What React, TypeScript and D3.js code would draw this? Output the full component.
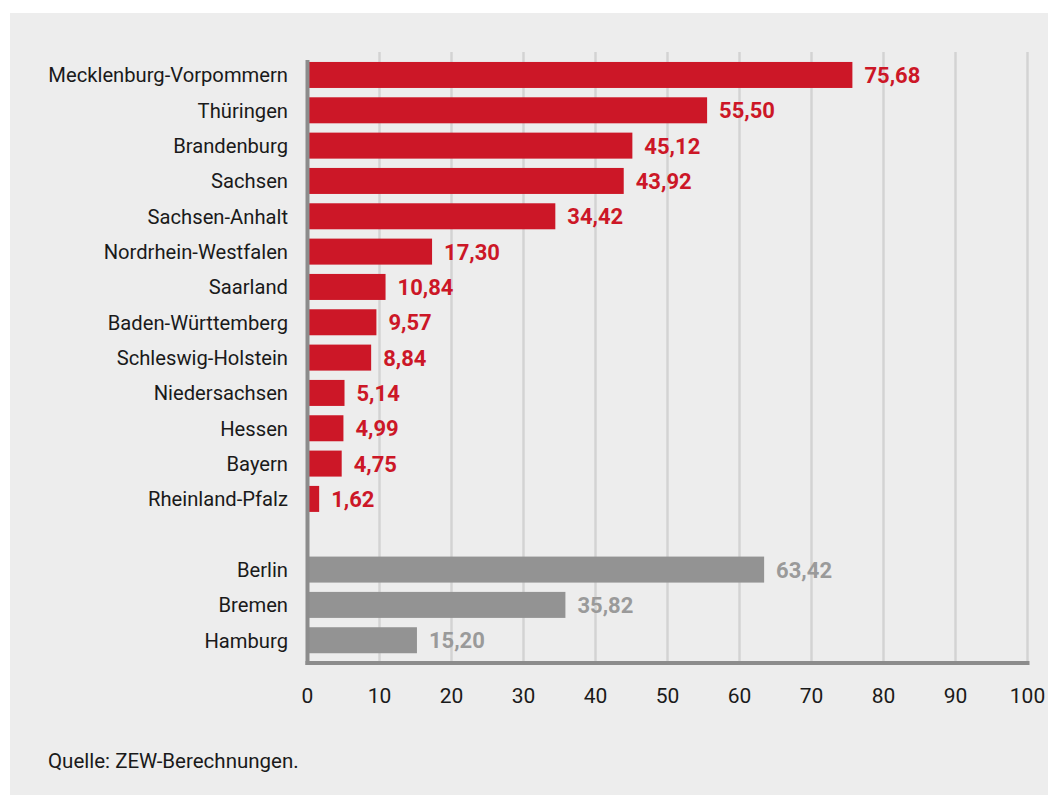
import React from "react";
import * as d3 from "d3";

/* ---- data ---- */
const flaechenlaender = [
  "Mecklenburg-Vorpommern",
  "Thüringen",
  "Brandenburg",
  "Sachsen",
  "Sachsen-Anhalt",
  "Nordrhein-Westfalen",
  "Saarland",
  "Baden-Württemberg",
  "Schleswig-Holstein",
  "Niedersachsen",
  "Hessen",
  "Bayern",
  "Rheinland-Pfalz",
];
const flaechenWerte = [75.68, 55.5, 45.12, 43.92, 34.42, 17.3, 10.84, 9.57, 8.84, 5.14, 4.99, 4.75, 1.62];

const stadtstaaten = ["Berlin", "Bremen", "Hamburg"];
const stadtWerte = [63.42, 35.82, 15.2];

const xTicks = [0, 10, 20, 30, 40, 50, 60, 70, 80, 90, 100];
const quelle = "Quelle: ZEW-Berechnungen.";

const GAP = "__gap";

/* ---- colours ---- */
const RED = "#cc1727";
const GREY = "#939393";
const GREY_TXT = "#9a9a9a";
const AXIS = "#8c8c8c";
const GRID = "#d3d3d3";
const BG = "#ededed";
const FONT = "Roboto, 'Open Sans', sans-serif";

const fmt = (v: number) => v.toFixed(2).replace(".", ",");

export default function App() {
  const W = 1048;
  const H = 795;

  const rows = [
    ...flaechenlaender.map((n, i) => ({ name: n, value: flaechenWerte[i], city: false })),
    ...stadtstaaten.map((n, i) => ({ name: n, value: stadtWerte[i], city: true })),
  ];

  const x = d3.scaleLinear().domain([0, 100]).range([307.5, 1027.5]);
  const y = d3
    .scaleBand<string>()
    .domain([...flaechenlaender, GAP, ...stadtstaaten])
    .range([57.3, 657.9])
    .paddingInner(0.264)
    .paddingOuter(0.132);

  const bh = y.bandwidth();
  const axisY = 663;

  return (
    <svg
      width={W}
      height={H}
      style={{ position: "absolute", left: 0, top: 0, fontFamily: FONT }}
    >
      <rect x={0} y={0} width={W} height={H} fill="#fff" />
      <rect x={10} y={13} width={W - 10} height={H - 13} fill={BG} />

      {/* gridlines */}
      {xTicks
        .filter((t) => t > 0)
        .map((t) => (
          <line key={t} x1={x(t)} x2={x(t)} y1={52} y2={axisY} stroke={GRID} strokeWidth={2.5} />
        ))}

      {/* bars */}
      {rows.map((d) => {
        const yy = y(d.name)!;
        const cy = yy + bh / 2;
        return (
          <g key={d.name}>
            <rect
              x={x(0)}
              y={yy}
              width={x(d.value) - x(0)}
              height={bh}
              fill={d.city ? GREY : RED}
            />
            <text
              x={288}
              y={cy + 7.5}
              textAnchor="end"
              fontSize={20.2}
              fill="#1a1a1a"
            >
              {d.name}
            </text>
            <text
              x={x(d.value) + 12}
              y={cy + 8}
              fontSize={22}
              fontWeight={700}
              fill={d.city ? GREY_TXT : RED}
            >
              {fmt(d.value)}
            </text>
          </g>
        );
      })}

      {/* axes */}
      <line x1={x(0)} x2={x(0)} y1={60} y2={axisY + 2} stroke={AXIS} strokeWidth={4} />
      <line x1={x(0) - 2} x2={x(100) + 2} y1={axisY} y2={axisY} stroke={AXIS} strokeWidth={4} />

      {xTicks.map((t) => (
        <text
          key={t}
          x={x(t)}
          y={702.5}
          textAnchor="middle"
          fontSize={21}
          fill="#1a1a1a"
        >
          {t}
        </text>
      ))}

      <text x={48} y={768} fontSize={20.5} fill="#1a1a1a">
        {quelle}
      </text>
    </svg>
  );
}
